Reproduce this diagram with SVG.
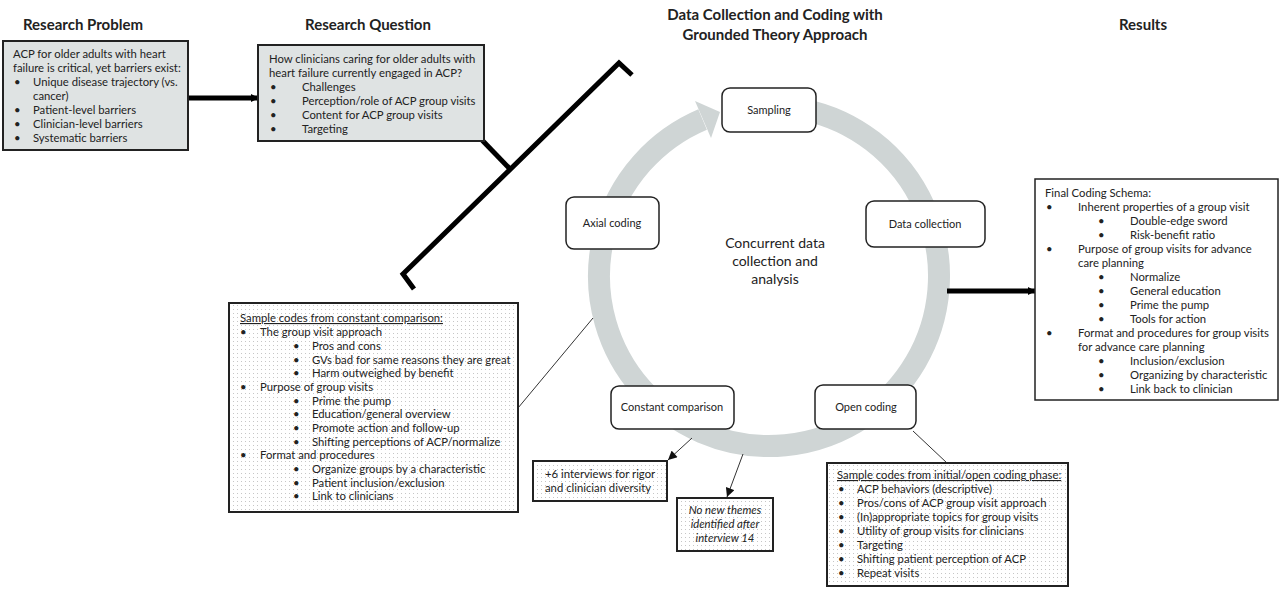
<svg xmlns="http://www.w3.org/2000/svg" width="1280" height="590" viewBox="0 0 1280 590">
<style>
text{font-family:Lato,"Open Sans","Liberation Sans",sans-serif;fill:#222;}
.title{font-size:15px;font-weight:bold;}
.t{font-size:11.3px;}
.n{font-size:11px;text-anchor:middle;}
.c{font-size:14px;text-anchor:middle;}
.gbox{fill:#dfe3e3;stroke:#222;stroke-width:2;}
.wbox{fill:#fff;stroke:#222;stroke-width:1.5;}
.dbox{fill:url(#dots);stroke:#222;stroke-width:2;}
.node{fill:#fff;stroke:#222;stroke-width:1.5;}
.thick{stroke:#000;stroke-width:5;fill:none;}
.thin{stroke:#333;stroke-width:1;fill:none;}
</style>
<defs>
<pattern id="dots" patternUnits="userSpaceOnUse" width="4" height="4">
<rect width="4" height="4" fill="#fff"/>
<rect x="1" y="1" width="1" height="1" fill="#c6c6c6"/>
</pattern>
<marker id="bigHead" markerUnits="userSpaceOnUse" viewBox="0 0 10 10" refX="9" refY="5" markerWidth="8" markerHeight="11" orient="auto">
<path d="M0,0 L10,5 L0,10 Z" fill="#000"/>
</marker>
<marker id="smallHead" markerUnits="userSpaceOnUse" viewBox="0 0 10 10" refX="10" refY="5" markerWidth="10" markerHeight="9" orient="auto">
<path d="M0,0 L10,5 L0,10 Z" fill="#111"/>
</marker>
</defs>
<rect width="1280" height="590" fill="#fff"/>

<g id="titles">
<text class="title" x="83" y="30" text-anchor="middle">Research Problem</text>
<text class="title" x="368" y="30" text-anchor="middle">Research Question</text>
<text class="title" x="775" y="20" text-anchor="middle">Data Collection and Coding with</text>
<text class="title" x="775" y="40" text-anchor="middle">Grounded Theory Approach</text>
<text class="title" x="1143" y="30" text-anchor="middle">Results</text>
</g>

<g id="cycle">
<path d="M804.3,109.7 A170,170 0 1 1 702.6,119.5" fill="none" stroke="#cfd5d5" stroke-width="22"/>
<polygon points="695,101 720,112 711,138" fill="#cfd5d5"/>
<text class="c" x="775" y="248">Concurrent data</text>
<text class="c" x="775" y="266">collection and</text>
<text class="c" x="775" y="284">analysis</text>
</g>

<g id="connectors">
<line class="thick" x1="188" y1="98" x2="258" y2="98" marker-end="url(#bigHead)"/>
<polyline class="thick" points="632,75 619,63 403,274 414,289" stroke-linejoin="miter"/>
<line class="thick" x1="481" y1="139" x2="510" y2="169"/>
<line class="thick" stroke-width="6" x1="947" y1="291" x2="1035" y2="291" marker-end="url(#bigHead)"/>
<line class="thin" x1="518" y1="408" x2="593" y2="318"/>
<line class="thin" x1="913" y1="431" x2="947" y2="463"/>
<line class="thin" x1="692" y1="438" x2="668" y2="460" marker-end="url(#smallHead)"/>
<line class="thin" x1="743" y1="454" x2="727" y2="497" marker-end="url(#smallHead)"/>
</g>

<g id="research-problem">
<rect class="gbox" x="3" y="41" width="185" height="109"/>
<text class="t" x="13" y="58">ACP for older adults with heart</text>
<text class="t" x="13" y="72">failure is critical, yet barriers exist:</text>
<text class="t" x="14" y="86">•</text><text class="t" x="33" y="86">Unique disease trajectory (vs.</text>
<text class="t" x="33" y="100">cancer)</text>
<text class="t" x="14" y="114">•</text><text class="t" x="33" y="114">Patient-level barriers</text>
<text class="t" x="14" y="128">•</text><text class="t" x="33" y="128">Clinician-level barriers</text>
<text class="t" x="14" y="142">•</text><text class="t" x="33" y="142">Systematic barriers</text>
</g>

<g id="research-question">
<rect class="gbox" x="258" y="45" width="226" height="96"/>
<text class="t" x="269" y="63">How clinicians caring for older adults with</text>
<text class="t" x="269" y="77">heart failure currently engaged in ACP?</text>
<text class="t" x="270" y="91">•</text><text class="t" x="302" y="91">Challenges</text>
<text class="t" x="270" y="105">•</text><text class="t" x="302" y="105">Perception/role of ACP group visits</text>
<text class="t" x="270" y="119">•</text><text class="t" x="302" y="119">Content for ACP group visits</text>
<text class="t" x="270" y="133">•</text><text class="t" x="302" y="133">Targeting</text>
</g>

<g id="sampling">
<rect class="node" x="722" y="88" width="94" height="44" rx="8"/>
<text class="n" x="769" y="114">Sampling</text>
</g>
<g id="data-collection">
<rect class="node" x="866" y="201" width="119" height="46" rx="8"/>
<text class="n" x="925" y="228">Data collection</text>
</g>
<g id="open-coding">
<rect class="node" x="815" y="385" width="101" height="44" rx="8"/>
<text class="n" x="866" y="411">Open coding</text>
</g>
<g id="constant-comparison">
<rect class="node" x="611" y="386" width="123" height="43" rx="8"/>
<text class="n" x="672" y="411">Constant comparison</text>
</g>
<g id="axial-coding">
<rect class="node" x="566" y="197" width="93" height="52" rx="8"/>
<text class="n" x="612" y="227">Axial coding</text>
</g>

<g id="final-coding-schema">
<rect class="wbox" x="1035" y="179" width="243" height="221"/>
<text class="t" x="1045" y="197">Final Coding Schema:</text>
<text class="t" x="1046" y="211">•</text><text class="t" x="1078" y="211">Inherent properties of a group visit</text>
<text class="t" x="1098" y="225">•</text><text class="t" x="1130" y="225">Double-edge sword</text>
<text class="t" x="1098" y="239">•</text><text class="t" x="1130" y="239">Risk-benefit ratio</text>
<text class="t" x="1046" y="253">•</text><text class="t" x="1078" y="253">Purpose of group visits for advance</text>
<text class="t" x="1078" y="267">care planning</text>
<text class="t" x="1098" y="281">•</text><text class="t" x="1130" y="281">Normalize</text>
<text class="t" x="1098" y="295">•</text><text class="t" x="1130" y="295">General education</text>
<text class="t" x="1098" y="309">•</text><text class="t" x="1130" y="309">Prime the pump</text>
<text class="t" x="1098" y="323">•</text><text class="t" x="1130" y="323">Tools for action</text>
<text class="t" x="1046" y="337">•</text><text class="t" x="1078" y="337">Format and procedures for group visits</text>
<text class="t" x="1078" y="351">for advance care planning</text>
<text class="t" x="1098" y="365">•</text><text class="t" x="1130" y="365">Inclusion/exclusion</text>
<text class="t" x="1098" y="379">•</text><text class="t" x="1130" y="379">Organizing by characteristic</text>
<text class="t" x="1098" y="393">•</text><text class="t" x="1130" y="393">Link back to clinician</text>
</g>

<g id="constant-comparison-codes">
<rect class="dbox" x="229" y="303" width="289" height="209"/>
<text class="t" x="240" y="322" text-decoration="underline">Sample codes from constant comparison:</text>
<text class="t" x="240" y="336">•</text><text class="t" x="260" y="336">The group visit approach</text>
<text class="t" x="293" y="350">•</text><text class="t" x="312" y="350">Pros and cons</text>
<text class="t" x="293" y="364">•</text><text class="t" x="312" y="364">GVs bad for same reasons they are great</text>
<text class="t" x="293" y="377">•</text><text class="t" x="312" y="377">Harm outweighed by benefit</text>
<text class="t" x="240" y="391">•</text><text class="t" x="260" y="391">Purpose of group visits</text>
<text class="t" x="293" y="405">•</text><text class="t" x="312" y="405">Prime the pump</text>
<text class="t" x="293" y="418">•</text><text class="t" x="312" y="418">Education/general overview</text>
<text class="t" x="293" y="432">•</text><text class="t" x="312" y="432">Promote action and follow-up</text>
<text class="t" x="293" y="446">•</text><text class="t" x="312" y="446">Shifting perceptions of ACP/normalize</text>
<text class="t" x="240" y="459">•</text><text class="t" x="260" y="459">Format and procedures</text>
<text class="t" x="293" y="473">•</text><text class="t" x="312" y="473">Organize groups by a characteristic</text>
<text class="t" x="293" y="487">•</text><text class="t" x="312" y="487">Patient inclusion/exclusion</text>
<text class="t" x="293" y="500">•</text><text class="t" x="312" y="500">Link to clinicians</text>
</g>

<g id="extra-interviews">
<rect class="dbox" x="533" y="461" width="134" height="40"/>
<text class="t" x="545" y="478">+6 interviews for rigor</text>
<text class="t" x="545" y="492">and clinician diversity</text>
</g>

<g id="saturation">
<rect class="dbox" x="677" y="498" width="96" height="53"/>
<text class="t" x="725" y="514" text-anchor="middle" font-style="italic">No new themes</text>
<text class="t" x="725" y="528" text-anchor="middle" font-style="italic">identified after</text>
<text class="t" x="725" y="542" text-anchor="middle" font-style="italic">interview 14</text>
</g>

<g id="open-coding-codes">
<rect class="dbox" x="827" y="463" width="241" height="123"/>
<text class="t" x="837" y="479" text-decoration="underline">Sample codes from initial/open coding phase:</text>
<text class="t" x="838" y="493">•</text><text class="t" x="857" y="493">ACP behaviors (descriptive)</text>
<text class="t" x="838" y="507">•</text><text class="t" x="857" y="507">Pros/cons of ACP group visit approach</text>
<text class="t" x="838" y="521">•</text><text class="t" x="857" y="521">(In)appropriate topics for group visits</text>
<text class="t" x="838" y="535">•</text><text class="t" x="857" y="535">Utility of group visits for clinicians</text>
<text class="t" x="838" y="549">•</text><text class="t" x="857" y="549">Targeting</text>
<text class="t" x="838" y="563">•</text><text class="t" x="857" y="563">Shifting patient perception of ACP</text>
<text class="t" x="838" y="577">•</text><text class="t" x="857" y="577">Repeat visits</text>
</g>
</svg>
